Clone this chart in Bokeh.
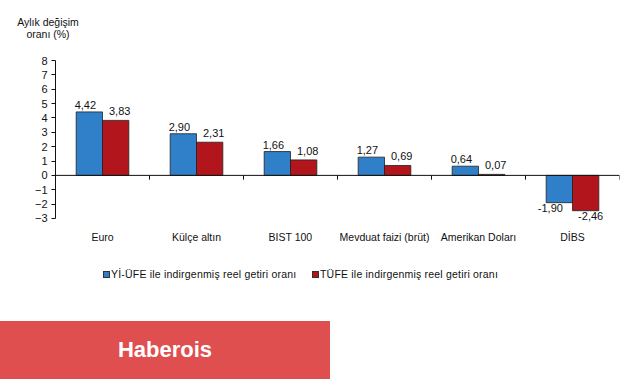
from bokeh.plotting import figure
from bokeh.models import ColumnDataSource, Span, FixedTicker, Range1d, Div
from bokeh.layouts import column
from bokeh.core.properties import value
from bokeh.embed import file_html
from bokeh.resources import INLINE

categories = ["Euro", "Külçe altın", "BIST 100", "Mevduat faizi (brüt)",
              "Amerikan Doları", "DİBS"]
yi_ufe = [4.42, 2.90, 1.66, 1.27, 0.64, -1.90]
tufe = [3.83, 2.31, 1.08, 0.69, 0.07, -2.46]
series_names = ["Yİ-ÜFE ile indirgenmiş reel getiri oranı",
                "TÜFE ile indirgenmiş reel getiri oranı"]
y_ticks = list(range(-3, 9))
title_lines = ["Aylık değişim", "oranı (%)"]
brand = "Haberois"

BLUE = "#2f7fc9"
RED = "#b2161c"
EDGE = "#1f1f1f"
FONT = "Liberation Sans"
TXT = "#111111"

def fmt(v):
    return f"{v:.2f}".replace(".", ",")

n = len(categories)
centers = [i + 0.5 for i in range(n)]
bw = 0.28
xb = [c - bw / 2 for c in centers]
xr = [c + bw / 2 for c in centers]
src_b = ColumnDataSource(dict(x=xb, top=yi_ufe))
src_r = ColumnDataSource(dict(x=xr, top=tufe))

# ---- title block
title_div = Div(text=(
    f'<div style="width:96px;height:45px;position:relative;'
    f'font-family:\'{FONT}\';font-size:10.5px;color:{TXT};">'
    f'<div style="position:absolute;top:16px;left:0;width:96px;'
    f'text-align:center;line-height:12px;white-space:nowrap;">'
    + "<br>".join(title_lines) + '</div></div>'),
    width=96, height=45, margin=0)

# ---- chart
p = figure(width=625, height=200, output_backend="svg", toolbar_location=None,
           x_range=Range1d(0, n), y_range=Range1d(-3.35, 8),
           min_border_left=55, min_border_right=6, min_border_top=15,
           min_border_bottom=19, margin=0)
p.outline_line_color = None
p.xgrid.visible = False
p.ygrid.visible = False

p.vbar(x="x", top="top", bottom=0, width=bw, source=src_b,
       fill_color=BLUE, line_color=EDGE, line_width=0.8)
p.vbar(x="x", top="top", bottom=0, width=bw, source=src_r,
       fill_color=RED, line_color=EDGE, line_width=0.8)

def label_src(xs, vals, positive):
    keep = [(x, v) for x, v in zip(xs, vals) if (v >= 0) == positive]
    return ColumnDataSource(dict(x=[k[0] for k in keep], y=[k[1] for k in keep],
                                 t=[fmt(k[1]) for k in keep]))

common = dict(text="t", text_font=value(FONT), text_font_size="11px",
              text_color=TXT, text_align="center")
p.text(x="x", y="y", source=label_src(xb, yi_ufe, True), text_baseline="bottom",
       x_offset=-4, y_offset=-3, **common)
p.text(x="x", y="y", source=label_src(xr, tufe, True), text_baseline="bottom",
       x_offset=4, y_offset=-5, **common)
p.text(x="x", y="y", source=label_src(xb, yi_ufe, False), text_baseline="top",
       x_offset=-9, y_offset=1, **common)
p.text(x="x", y="y", source=label_src(xr, tufe, False), text_baseline="top",
       x_offset=5, y_offset=1, **common)

p.add_layout(Span(location=0, dimension="width", line_color=TXT, line_width=1))
seps = list(range(1, n + 1))
p.segment(x0=seps, y0=[0] * len(seps), x1=seps, y1=[-0.3] * len(seps),
          line_color=TXT, line_width=1)

ya = p.yaxis[0]
ya.ticker = FixedTicker(ticks=y_ticks)
ya.bounds = (min(y_ticks), max(y_ticks))
ya.major_label_text_font = FONT
ya.major_label_text_font_size = "11px"
ya.major_label_text_color = TXT
ya.axis_line_color = TXT
ya.major_tick_line_color = TXT
ya.major_tick_out = 4
ya.major_tick_in = 0
ya.minor_tick_line_color = None
ya.major_label_standoff = 4

xa = p.xaxis[0]
xa.ticker = FixedTicker(ticks=centers)
xa.major_label_overrides = {c: lab for c, lab in zip(centers, categories)}
xa.axis_line_color = None
xa.major_tick_line_color = None
xa.minor_tick_line_color = None
xa.major_label_text_font = FONT
xa.major_label_text_font_size = "10.5px"
xa.major_label_text_color = TXT
xa.major_label_standoff = 1

# ---- legend block
def legend_item(left, color, label):
    return (f'<span style="position:absolute;left:{left}px;top:26px;width:7px;'
            f'height:7px;box-sizing:border-box;background:{color};'
            f'border:1px solid #333;"></span>'
            f'<span style="position:absolute;left:{left + 8}px;top:23px;'
            f'line-height:12px;white-space:nowrap;letter-spacing:0.2px;">'
            f'{label}</span>')

legend_div = Div(text=(
    f'<div style="width:625px;height:76px;position:relative;'
    f'font-family:\'{FONT}\';font-size:10.5px;color:{TXT};">'
    + legend_item(103, BLUE, series_names[0])
    + legend_item(312, RED, series_names[1]) + '</div>'),
    width=625, height=76, margin=0)

# ---- banner
banner = Div(text=(
    f'<div style="width:330px;height:58px;background:#e04f4f;color:#ffffff;'
    f'font-family:\'{FONT}\';font-weight:bold;font-size:22px;'
    f'display:flex;align-items:center;justify-content:center;">'
    + brand + '</div>'), width=330, height=58, margin=0)

layout = column(title_div, p, legend_div, banner, spacing=0)
open("out.html", "w").write(file_html(layout, INLINE))
